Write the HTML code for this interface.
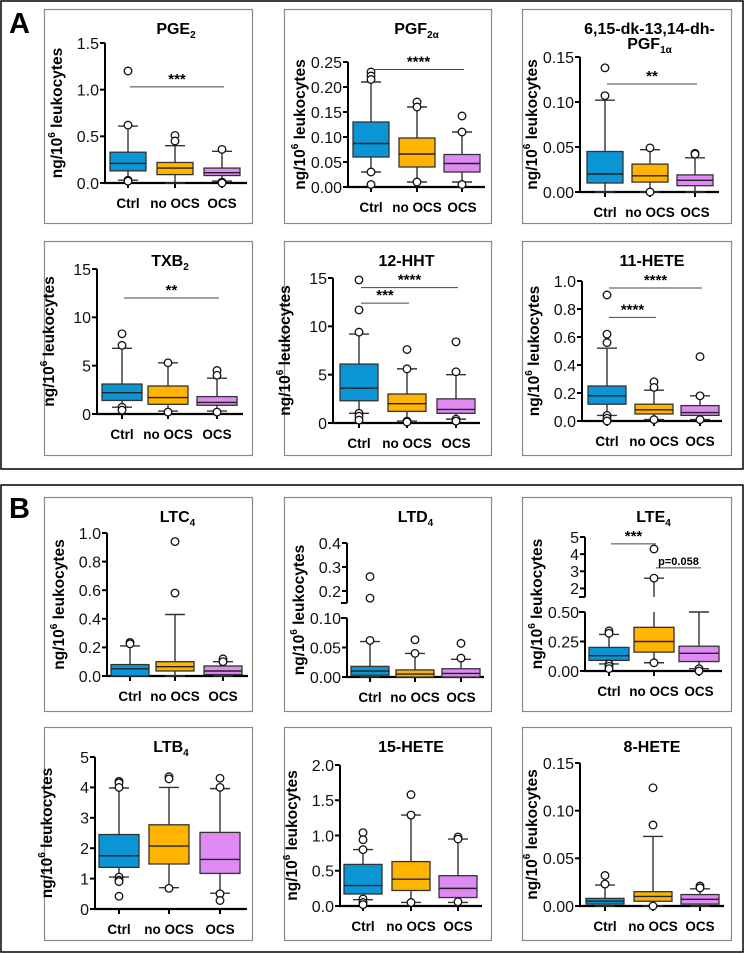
<!DOCTYPE html>
<html><head><meta charset="utf-8">
<style>
html,body{margin:0;padding:0;background:#fff;}
svg{display:block;font-family:"Liberation Sans",sans-serif;}
</style></head>
<body>
<svg id="fig" width="744" height="954" viewBox="0 0 744 954" xmlns="http://www.w3.org/2000/svg">
<rect x="1" y="1" width="742" height="468" fill="none" stroke="#000" stroke-width="1.5"/>
<rect x="1" y="485" width="742" height="467" fill="none" stroke="#000" stroke-width="1.5"/>
<text x="9" y="33" font-size="29" font-weight="bold">A</text>
<text x="9" y="518" font-size="29" font-weight="bold">B</text>
</svg>
<script>
const categories = ["Ctrl", "no OCS", "OCS"];
const colors = ["#0c95d5", "#ffb400", "#de8af2"];
// stats per group: [whiskerLow, q1, median, q3, whiskerHigh]
const PGE2_STATS = [[0.03,0.13,0.21,0.33,0.61],[0.0,0.09,0.16,0.22,0.40],[0.02,0.08,0.11,0.16,0.34]];
const PGE2_OUT = [[1.2,0.62,0.03,0.02],[0.51,0.45],[0.36,0.01,0.0]];
const PGF2A_STATS = [[0.03,0.06,0.087,0.13,0.21],[0.01,0.04,0.066,0.098,0.16],[0.01,0.03,0.047,0.065,0.11]];
const PGF2A_OUT = [[0.23,0.222,0.215,0.03,0.005],[0.17,0.16,0.01],[0.142,0.11,0.005]];
const PGF1A_STATS = [[0.0,0.01,0.02,0.045,0.102],[0.0,0.011,0.018,0.031,0.047],[0.0,0.007,0.013,0.019,0.038]];
const PGF1A_OUT = [[0.138,0.107],[0.049,0.0],[0.043,0.042]];
const TXB2_STATS = [[0.7,1.4,2.2,3.1,6.8],[0.3,1.0,1.7,2.9,5.3],[0.3,0.9,1.2,1.8,3.7]];
const TXB2_OUT = [[8.3,7.1,0.7,0.4],[5.3,0.2],[4.5,4.0,0.2]];
const HHT_STATS = [[1.0,2.3,3.6,6.1,9.2],[0.2,1.2,2.0,3.0,5.6],[0.4,1.0,1.4,2.5,5.0]];
const HHT_OUT = [[14.8,11.7,9.4,1.0,0.7,0.3],[7.6,5.6,0.2,0.1],[8.4,5.3,0.4,0.2]];
const HETE11_STATS = [[0.04,0.12,0.18,0.25,0.52],[0.01,0.05,0.08,0.12,0.22],[0.01,0.04,0.06,0.11,0.18]];
const HETE11_OUT = [[0.9,0.62,0.56,0.04,0.02,0.0],[0.28,0.24,0.01],[0.46,0.18,0.01]];
const LTC4_STATS = [[0.0,0.0,0.05,0.08,0.21],[0.0,0.035,0.065,0.1,0.43],[0.0,0.01,0.035,0.07,0.10]];
const LTC4_OUT = [[0.235,0.225],[0.94,0.58],[0.12,0.10]];
const LTD4_STATS = [[0.0,0.003,0.01,0.018,0.06],[0.0,0.0,0.005,0.012,0.04],[0.0,0.0,0.006,0.014,0.03]];
const LTD4_OUT = [[0.26,0.17,0.062],[0.063,0.04],[0.057,0.032]];
const LTE4_STATS = [[0.06,0.09,0.13,0.2,0.31],[0.07,0.16,0.25,0.37,2.6],[0.02,0.08,0.15,0.21,0.5]];
const LTE4_OUT = [[0.34,0.32,0.06,0.04,0.02],[4.3,2.6,0.07],[0.02,0.0]];
const LTB4_STATS = [[1.05,1.37,1.75,2.45,3.98],[0.7,1.48,2.07,2.77,4.0],[0.52,1.17,1.63,2.52,3.96]];
const LTB4_OUT = [[4.2,4.15,4.0,1.05,0.95,0.9,0.42],[4.35,4.28,0.68],[4.3,4.0,0.5,0.28]];
const HETE15_STATS = [[0.09,0.17,0.29,0.59,0.80],[0.05,0.22,0.38,0.63,1.29],[0.05,0.12,0.25,0.43,0.95]];
const HETE15_OUT = [[1.04,0.94,0.8,0.1,0.05,0.02],[1.58,1.29,0.05],[0.98,0.95,0.06]];
const HETE8_STATS = [[0.0,0.002,0.005,0.008,0.022],[0.0,0.005,0.01,0.015,0.073],[0.0,0.002,0.007,0.012,0.018]];
const HETE8_OUT = [[0.032,0.023],[0.124,0.085,0.0],[0.021,0.019]];
const TICKS_PGE2 = ["0.0","0.5","1.0","1.5"];
const TICKS_PGF2A = ["0.00","0.05","0.10","0.15","0.20","0.25"];
const TICKS_PGF1A = ["0.00","0.05","0.10","0.15"];
const TICKS_15 = ["0","5","10","15"];
const TICKS_HETE11 = ["0.0","0.2","0.4","0.6","0.8","1.0"];
const TICKS_LTC4 = ["0.0","0.2","0.4","0.6","0.8","1.0"];
const TICKS_LTB4 = ["0","1","2","3","4","5"];
const TICKS_HETE15 = ["0.0","0.5","1.0","1.5","2.0"];
const TICKS_HETE8 = ["0.00","0.05","0.10","0.15"];

const NS = "http://www.w3.org/2000/svg";
const svg = document.getElementById("fig");
function mk(tag, attrs, parent){const e=document.createElementNS(NS,tag);for(const k in attrs)e.setAttribute(k,attrs[k]);(parent||svg).appendChild(e);return e;}

const panels = [
 {key:"pge2",px:44,py:9,pw:208,ph:214,ax:61,ar:203,cx:[84,131,178],hw:18,title:[["PGE","2"]],segs:[{min:0,max:1.5,top:34,bot:174,ticks:TICKS_PGE2}],st:PGE2_STATS,out:PGE2_OUT,sig:[[0,2,1.03,"***"]]},
 {key:"pgf2a",px:284,py:9,pw:207,ph:214,ax:64,ar:201,cx:[87,133,178],hw:18,title:[["PGF","2α"]],segs:[{min:0,max:0.25,top:53,bot:178,ticks:TICKS_PGF2A}],st:PGF2A_STATS,out:PGF2A_OUT,sig:[[0,2,0.235,"****"]]},
 {key:"pgf1a",px:522,py:9,pw:209,ph:214,ax:58,ar:197,cx:[83,128,173],hw:18,title:[["6,15-dk-13,14-dh-",""],["PGF","1α"]],segs:[{min:0,max:0.15,top:48,bot:183,ticks:TICKS_PGF1A}],st:PGF1A_STATS,out:PGF1A_OUT,sig:[[0,2,0.12,"**"]]},
 {key:"txb2",px:44,py:241,pw:208,ph:214,ax:53,ar:199,cx:[78,124,173],hw:20,title:[["TXB","2"]],segs:[{min:0,max:15,top:28,bot:173,ticks:TICKS_15}],st:TXB2_STATS,out:TXB2_OUT,sig:[[0,2,12,"**"]]},
 {key:"hht12",px:284,py:241,pw:207,ph:214,ax:49,ar:196,cx:[75,123,172],hw:19,title:[["12-HHT",""]],segs:[{min:0,max:15,top:37,bot:182,ticks:TICKS_15}],st:HHT_STATS,out:HHT_OUT,sig:[[0,1,12.4,"***"],[0,2,14.0,"****"]]},
 {key:"hete11",px:522,py:241,pw:209,ph:214,ax:60,ar:200,cx:[85,132,178],hw:19,title:[["11-HETE",""]],segs:[{min:0,max:1.0,top:40,bot:180,ticks:TICKS_HETE11}],st:HETE11_STATS,out:HETE11_OUT,sig:[[0,1,0.74,"****"],[0,2,0.95,"****"]]},
 {key:"ltc4",px:44,py:497,pw:208,ph:214,ax:63,ar:204,cx:[86,131,179],hw:19,title:[["LTC","4"]],segs:[{min:0,max:1.0,top:36,bot:179,ticks:TICKS_LTC4}],st:LTC4_STATS,out:LTC4_OUT,sig:[]},
 {key:"ltd4",px:284,py:497,pw:207,ph:214,ax:63,ar:200,cx:[86,131,177],hw:19,title:[["LTD","4"]],segs:[{min:0,max:0.1,top:121,bot:180,ticks:["0.00","0.05","0.10"],vals:[0,0.05,0.1]},{min:0.15,max:0.4,top:46,bot:106,ticks:["0.2","0.3","0.4"],vals:[0.2,0.3,0.4]}],st:LTD4_STATS,out:LTD4_OUT,sig:[]},
 {key:"lte4",px:522,py:497,pw:209,ph:214,ax:63,ar:200,cx:[87,132,177],hw:20,title:[["LTE","4"]],segs:[{min:0,max:0.5,top:115,bot:174,ticks:["0.00","0.25","0.50"],vals:[0,0.25,0.5]},{min:1.5,max:5,top:40,bot:100,ticks:["2","3","4","5"],vals:[2,3,4,5]}],st:LTE4_STATS,out:LTE4_OUT,sig:[[0,1,4.6,"***"],[1,2,3.2,"p=0.058"]]},
 {key:"ltb4",px:44,py:727,pw:208,ph:213,ax:51,ar:203,cx:[75,125,176],hw:20,title:[["LTB","4"]],segs:[{min:0,max:5,top:30,bot:182,ticks:TICKS_LTB4}],st:LTB4_STATS,out:LTB4_OUT,sig:[]},
 {key:"hete15",px:284,py:727,pw:207,ph:213,ax:56,ar:198,cx:[79,127,174],hw:19,title:[["15-HETE",""]],segs:[{min:0,max:2.0,top:38,bot:179,ticks:TICKS_HETE15}],st:HETE15_STATS,out:HETE15_OUT,sig:[]},
 {key:"hete8",px:522,py:727,pw:209,ph:213,ax:58,ar:202,cx:[83,131,178],hw:19,title:[["8-HETE",""]],segs:[{min:0,max:0.15,top:36,bot:179,ticks:TICKS_HETE8}],st:HETE8_STATS,out:HETE8_OUT,sig:[]}
];

panels.forEach(p=>{
  const g = mk("g",{transform:`translate(${p.px},${p.py})`});
  
  
  const fr = mk("rect",{x:0.5,y:0.5,width:p.pw,height:p.ph,fill:"#fff",stroke:"#8a8a8a","stroke-width":1.2},g);
  
  
  p.segs.forEach(s=>{ if(!s.vals) s.vals = s.ticks.map(t=>parseFloat(t)); });
  function segOf(v){ if(p.segs.length===1) return p.segs[0];
    for(const s of p.segs){ if(v>=s.min && v<=s.max) return s; }
    return v>p.segs[0].max ? p.segs[1] : p.segs[0]; }
  function yOf(v){ const s=segOf(v); return s.bot-(v-s.min)/(s.max-s.min)*(s.bot-s.top); }
  const bottom = p.segs[0].bot;
  const tcx=(p.ax+p.ar)/2;
  p.title.forEach((ln,i)=>{
    const t = mk("text",{x:tcx,y:(p.title.length>1?25+i*15:25),"text-anchor":"middle","font-size":16,"font-weight":"bold"},g);
    
    
    const a=mk("tspan",{},t); a.textContent=ln[0];
    if(ln[1]){ const b=mk("tspan",{"font-size":10,dy:4},t); b.textContent=ln[1]; }
  });
  const top = p.segs[p.segs.length-1].top;
  const ly=(top+bottom)/2, lx=p.ax-47;
  const yl = mk("text",{x:lx,y:ly,transform:`rotate(-90 ${lx} ${ly})`,"text-anchor":"middle","font-size":15.5,"font-weight":"bold","dominant-baseline":"middle"},g);
  
  
  const y1=mk("tspan",{},yl); y1.textContent="ng/10";
  const y2=mk("tspan",{"font-size":10,dy:-6},yl); y2.textContent="6";
  const y3=mk("tspan",{dy:6},yl); y3.textContent=" leukocytes";
  p.segs.forEach((s,si)=>{
    const al = mk("line",{x1:p.ax,x2:p.ax,y1:s.top,y2:(si===0?bottom+1:s.bot),stroke:"#000","stroke-width":2},g);
    
    
    if(p.segs.length>1){
      const yb = si===0 ? s.top : s.bot;
      const bl = mk("line",{x1:p.ax-6,x2:p.ax,y1:yb,y2:yb,stroke:"#000","stroke-width":2},g);
      
      
    }
    s.vals.forEach((v,i)=>{
      const yy = s.bot-(v-s.min)/(s.max-s.min)*(s.bot-s.top);
      const tk = mk("line",{x1:p.ax-5,x2:p.ax,y1:yy,y2:yy,stroke:"#000","stroke-width":2},g);
      
      
      const tl = mk("text",{x:p.ax-6,y:yy+5.8,"text-anchor":"end","font-size":16,fill:"#111"},g);
      
      
      tl.textContent = s.ticks[i];
    });
  });
  const xa = mk("line",{x1:p.ax-1,x2:p.ar,y1:bottom,y2:bottom,stroke:"#000","stroke-width":2.2},g);
  
  
  categories.forEach((c,i)=>{
    const x=p.cx[i];
    const tk = mk("line",{x1:x,x2:x,y1:bottom,y2:bottom+5,stroke:"#000","stroke-width":2},g);
    
    
    const cl = mk("text",{x:x,y:bottom+25,"text-anchor":"middle","font-size":13.5,"font-weight":"bold"},g);
    
    
    cl.textContent=c;
    const s=p.st[i];
    const bx = mk("g",{},g);
    
    
    function vline(a,b){
      if(p.segs.length>1 && segOf(a)!==segOf(b)){
        const lo=p.segs[0], hi=p.segs[1];
        mk("line",{x1:x,x2:x,y1:yOf(a),y2:lo.top,stroke:"#333","stroke-width":1.4},bx);
        mk("line",{x1:x,x2:x,y1:hi.bot,y2:yOf(b),stroke:"#333","stroke-width":1.4},bx);
      } else mk("line",{x1:x,x2:x,y1:yOf(a),y2:yOf(b),stroke:"#333","stroke-width":1.4},bx);
    }
    vline(s[0],s[1]); vline(s[3],s[4]);
    [s[0],s[4]].forEach(v=>mk("line",{x1:x-10,x2:x+10,y1:yOf(v),y2:yOf(v),stroke:"#333","stroke-width":1.4},bx));
    mk("rect",{x:x-p.hw,y:yOf(s[3]),width:2*p.hw,height:Math.max(1,yOf(s[1])-yOf(s[3])),fill:colors[i],stroke:"#333","stroke-width":1.3},bx);
    mk("line",{x1:x-p.hw,x2:x+p.hw,y1:yOf(s[2]),y2:yOf(s[2]),stroke:"#222","stroke-width":1.4},bx);
    p.out[i].forEach(v=>{
      const o = mk("circle",{cx:x,cy:yOf(v),r:3.8,fill:"#fff",stroke:"#111","stroke-width":1.3},g);
      
      
    });
  });
  p.sig.forEach(sg=>{
    const yy=yOf(sg[2]);
    const sl = mk("line",{x1:p.cx[sg[0]]+2,x2:p.cx[sg[1]]+2,y1:yy,y2:yy,stroke:"#444","stroke-width":1},g);
    
    
    const st = mk("text",{x:(p.cx[sg[0]]+p.cx[sg[1]])/2+2,y:yy-3,"text-anchor":"middle","font-size":sg[3].startsWith("p")?11:15,"font-weight":"bold"},g);
    
    
    st.textContent=sg[3];
  });
});
</script>
</body></html>
